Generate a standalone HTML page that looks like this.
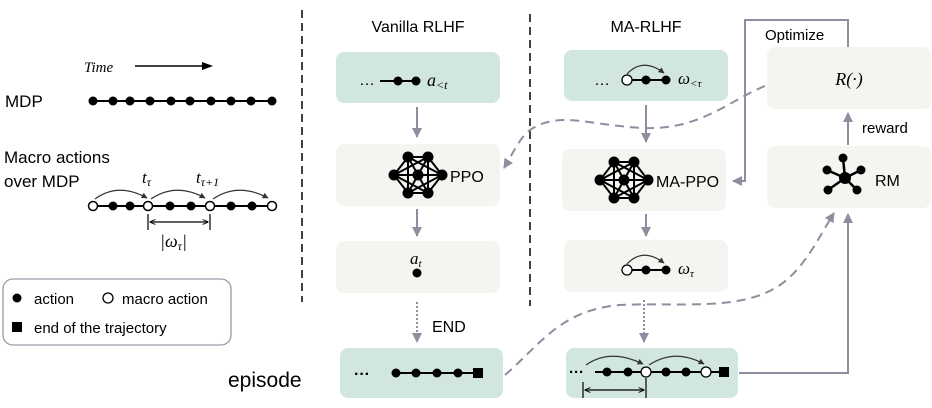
<!DOCTYPE html>
<html><head><meta charset="utf-8"><style>
body{margin:0;background:#fff;}
svg{display:block;font-family:"Liberation Sans",sans-serif;}
.m{font-family:"Liberation Serif",serif;font-style:italic;}
</style></head><body>
<svg width="932" height="408" viewBox="0 0 932 408" xmlns="http://www.w3.org/2000/svg">
<defs>
<marker id="ga" viewBox="0 0 10 10" refX="9" refY="5" markerWidth="5" markerHeight="5" orient="auto"><path d="M0,0L10,5L0,10z" fill="#8e8ea0"/></marker>
<marker id="ka" viewBox="0 0 10 10" refX="9" refY="5" markerWidth="5" markerHeight="5" orient="auto"><path d="M0,0L10,5L0,10z" fill="#333"/></marker>
<marker id="kb" viewBox="0 0 10 10" refX="9" refY="5" markerWidth="5" markerHeight="5" orient="auto-start-reverse"><path d="M0,1L10,5L0,9" fill="none" stroke="#000" stroke-width="1.5"/></marker>
<g id="net">
<g stroke="#000" stroke-width="2" fill="none"><path d="M408,157L428,157L442,175L428,193L408,193L394,175Z M408,157L442,175L408,193Z M428,157L394,175L428,193Z M408,157L428,193 M428,157L408,193 M394,175L442,175"/></g>
<g fill="#000"><circle cx="408" cy="157" r="5.5"/><circle cx="428" cy="157" r="5.5"/><circle cx="394" cy="175" r="5.5"/><circle cx="442" cy="175" r="5.5"/><circle cx="408" cy="193" r="5.5"/><circle cx="428" cy="193" r="5.5"/><circle cx="418" cy="175" r="5.5"/></g>
</g>
</defs>

<!-- dividers -->
<line x1="302" y1="10" x2="302" y2="302" stroke="#000" stroke-width="1.5" stroke-dasharray="8,5"/>
<line x1="530" y1="14" x2="530" y2="306" stroke="#000" stroke-width="1.5" stroke-dasharray="8,5"/>

<!-- left panel -->
<text x="84" y="72" class="m" font-size="15">Time</text>
<line x1="135" y1="66" x2="210" y2="66" stroke="#000" stroke-width="1.5"/>
<path d="M202,62L213,66L202,70z" fill="#000"/>
<text x="5" y="107" font-size="17">MDP</text>
<line x1="93" y1="101" x2="273" y2="101" stroke="#000" stroke-width="2"/>
<g fill="#000">
<circle cx="93" cy="101" r="4.5"/><circle cx="113" cy="101" r="4.5"/><circle cx="130" cy="101" r="4.5"/><circle cx="150" cy="101" r="4.5"/><circle cx="171" cy="101" r="4.5"/><circle cx="190" cy="101" r="4.5"/><circle cx="211" cy="101" r="4.5"/><circle cx="231" cy="101" r="4.5"/><circle cx="251" cy="101" r="4.5"/><circle cx="272" cy="101" r="4.5"/>
</g>
<text x="4" y="163" font-size="17">Macro actions</text>
<text x="4" y="187" font-size="17">over MDP</text>
<line x1="93" y1="206" x2="272" y2="206" stroke="#000" stroke-width="2"/>
<g fill="#000"><circle cx="113" cy="206" r="4.5"/><circle cx="130" cy="206" r="4.5"/><circle cx="170" cy="206" r="4.5"/><circle cx="191" cy="206" r="4.5"/><circle cx="231" cy="206" r="4.5"/><circle cx="252" cy="206" r="4.5"/></g>
<g fill="#fff" stroke="#000" stroke-width="1.5"><circle cx="93" cy="206" r="4.5"/><circle cx="148" cy="206" r="4.5"/><circle cx="210" cy="206" r="4.5"/><circle cx="272" cy="206" r="4.5"/></g>
<g fill="none" stroke="#333" stroke-width="1.2">
<path d="M95,199Q118,182 147,198" marker-end="url(#ka)"/>
<path d="M151,199Q176,182 205,198" marker-end="url(#ka)"/>
<path d="M213,199Q238,182 268,198" marker-end="url(#ka)"/>
</g>
<text x="142" y="183" class="m" font-size="17">t<tspan font-size="12" dy="3">τ</tspan></text>
<text x="196" y="183" class="m" font-size="17">t<tspan font-size="12" dy="3">τ+1</tspan></text>
<line x1="148" y1="214" x2="148" y2="230" stroke="#000" stroke-width="1.2"/>
<line x1="210" y1="214" x2="210" y2="230" stroke="#000" stroke-width="1.2"/>
<line x1="150" y1="222" x2="208" y2="222" stroke="#000" stroke-width="1.2" marker-start="url(#kb)" marker-end="url(#kb)"/>
<text x="160" y="247" class="m" font-size="18">|ω<tspan font-size="12" dy="3">τ</tspan><tspan dy="-3">|</tspan></text>

<rect x="3" y="279" width="228" height="66" rx="10" fill="#fff" stroke="#9a9aa6" stroke-width="1.3"/>
<circle cx="17" cy="298" r="4.5" fill="#000"/>
<text x="34" y="304" font-size="15">action</text>
<circle cx="108" cy="298" r="5" fill="#fff" stroke="#000" stroke-width="1.3"/>
<text x="122" y="304" font-size="15">macro action</text>
<rect x="12" y="322" width="10" height="10" fill="#000"/>
<text x="34" y="333" font-size="15">end of the trajectory</text>
<text x="228" y="387" font-size="21">episode</text>

<!-- Vanilla -->
<text x="418" y="32" font-size="16" text-anchor="middle">Vanilla RLHF</text>
<rect x="336" y="52" width="164" height="51" rx="8" fill="#d0e6df"/>
<text x="359" y="85" font-size="16">…</text>
<line x1="380" y1="81" x2="416" y2="81" stroke="#000" stroke-width="2"/>
<circle cx="398" cy="81" r="4.5"/><circle cx="416" cy="81" r="4.5"/>
<text x="427" y="86" class="m" font-size="18">a<tspan font-size="12" dy="3">&lt;t</tspan></text>
<rect x="336" y="144" width="164" height="62" rx="8" fill="#f4f5f0"/>
<use href="#net"/>
<text x="450" y="182" font-size="16">PPO</text>
<rect x="336" y="241" width="164" height="52" rx="8" fill="#f4f5f0"/>
<text x="410" y="264" class="m" font-size="17">a<tspan font-size="11" dy="3">t</tspan></text>
<circle cx="417" cy="273" r="4.5"/>
<rect x="340" y="348" width="163" height="50" rx="8" fill="#d0e6df"/>
<text x="354" y="379" font-size="16" font-weight="bold">···</text>
<line x1="396" y1="373" x2="478" y2="373" stroke="#000" stroke-width="2"/>
<g fill="#000"><circle cx="396" cy="373" r="4.5"/><circle cx="416" cy="373" r="4.5"/><circle cx="437" cy="373" r="4.5"/><circle cx="458" cy="373" r="4.5"/><rect x="473" y="368" width="10" height="10"/></g>
<g stroke="#8e8ea0" stroke-width="2" fill="none">
<line x1="417" y1="107" x2="417" y2="137" marker-end="url(#ga)"/>
<line x1="417" y1="209" x2="417" y2="236" marker-end="url(#ga)"/>
<line x1="417" y1="302" x2="417" y2="342" stroke-dasharray="2,2" marker-end="url(#ga)"/>
</g>
<text x="432" y="332" font-size="16">END</text>

<!-- MA -->
<text x="646" y="32" font-size="16" text-anchor="middle">MA-RLHF</text>
<rect x="564" y="50" width="164" height="51" rx="8" fill="#d0e6df"/>
<text x="594" y="85" font-size="16">…</text>
<line x1="627" y1="80" x2="666" y2="80" stroke="#000" stroke-width="2"/>
<circle cx="646" cy="80" r="4.5"/><circle cx="666" cy="80" r="4.5"/>
<circle cx="627" cy="80" r="5" fill="#fff" stroke="#000" stroke-width="1.3"/>
<path d="M627,74Q643,57 664,73" fill="none" stroke="#333" stroke-width="1.2" marker-end="url(#ka)"/>
<text x="678" y="84" class="m" font-size="17">ω<tspan font-size="11" dy="3">&lt;τ</tspan></text>
<rect x="562" y="149" width="164" height="62" rx="8" fill="#f4f5f0"/>
<use href="#net" transform="translate(206,5)"/>
<text x="656" y="187" font-size="16">MA-PPO</text>
<rect x="564" y="240" width="164" height="52" rx="8" fill="#f4f5f0"/>
<line x1="627" y1="270" x2="666" y2="270" stroke="#000" stroke-width="2"/>
<circle cx="646" cy="270" r="4.5"/><circle cx="666" cy="270" r="4.5"/>
<circle cx="627" cy="270" r="5" fill="#fff" stroke="#000" stroke-width="1.3"/>
<path d="M627,264Q643,247 664,263" fill="none" stroke="#333" stroke-width="1.2" marker-end="url(#ka)"/>
<text x="678" y="274" class="m" font-size="17">ω<tspan font-size="11" dy="3">τ</tspan></text>
<rect x="566" y="348" width="172" height="50" rx="8" fill="#d0e6df"/>
<text x="569" y="377" font-size="15" font-weight="bold">···</text>
<line x1="595" y1="372" x2="722" y2="372" stroke="#000" stroke-width="2"/>
<g fill="#000"><circle cx="607" cy="372" r="4.5"/><circle cx="628" cy="372" r="4.5"/><circle cx="666" cy="372" r="4.5"/><circle cx="686" cy="372" r="4.5"/><rect x="719" y="367" width="10" height="10"/></g>
<g fill="#fff" stroke="#000" stroke-width="1.3"><circle cx="646" cy="372" r="5"/><circle cx="706" cy="372" r="5"/></g>
<g fill="none" stroke="#333" stroke-width="1.2">
<path d="M586,365Q610,348 643,364" marker-end="url(#ka)"/>
<path d="M649,365Q675,348 704,364" marker-end="url(#ka)"/>
</g>
<line x1="583" y1="382" x2="583" y2="398" stroke="#000" stroke-width="1.2"/>
<line x1="646" y1="378" x2="646" y2="398" stroke="#000" stroke-width="1.2"/>
<line x1="585" y1="390" x2="644" y2="390" stroke="#000" stroke-width="1.2" marker-start="url(#kb)" marker-end="url(#kb)"/>
<g stroke="#8e8ea0" stroke-width="2" fill="none">
<line x1="646" y1="105" x2="646" y2="142" marker-end="url(#ga)"/>
<line x1="646" y1="214" x2="646" y2="236" marker-end="url(#ga)"/>
<line x1="644" y1="300" x2="644" y2="342" stroke-dasharray="2,2" marker-end="url(#ga)"/>
</g>

<!-- R and RM -->
<rect x="767" y="47" width="164" height="62" rx="8" fill="#f4f5f0"/>
<text x="849" y="85" class="m" font-size="18" text-anchor="middle">R(·)</text>
<rect x="767" y="146" width="164" height="62" rx="8" fill="#f4f5f0"/>
<g stroke="#000" stroke-width="2.5"><line x1="845" y1="178" x2="843" y2="158"/><line x1="845" y1="178" x2="827" y2="170"/><line x1="845" y1="178" x2="861" y2="170"/><line x1="845" y1="178" x2="828" y2="190"/><line x1="845" y1="178" x2="857" y2="190"/></g>
<g fill="#000"><circle cx="845" cy="178" r="6"/><circle cx="843" cy="158" r="4.5"/><circle cx="827" cy="170" r="4.5"/><circle cx="861" cy="170" r="4.5"/><circle cx="828" cy="190" r="4.5"/><circle cx="857" cy="190" r="4.5"/></g>
<text x="875" y="186" font-size="16">RM</text>
<text x="862" y="133" font-size="15">reward</text>
<text x="765" y="40" font-size="15">Optimize</text>
<g stroke="#8e8ea0" stroke-width="2" fill="none">
<line x1="848" y1="145" x2="848" y2="113" marker-end="url(#ga)"/>
<polyline points="848,47 848,20 745,20 745,181 733,181" marker-end="url(#ga)"/>
<polyline points="739,373 848,373 848,214" marker-end="url(#ga)"/>
<path d="M765,86C730,100 700,130 645,128C590,126 560,110 530,130C520,137 512,155 504,168" stroke-dasharray="9,6" marker-end="url(#ga)"/>
<path d="M505,375C540,345 560,310 620,305C680,302 740,312 780,285C805,268 820,235 834,213" stroke-dasharray="9,6" marker-end="url(#ga)"/>
</g>
</svg>
</body></html>
